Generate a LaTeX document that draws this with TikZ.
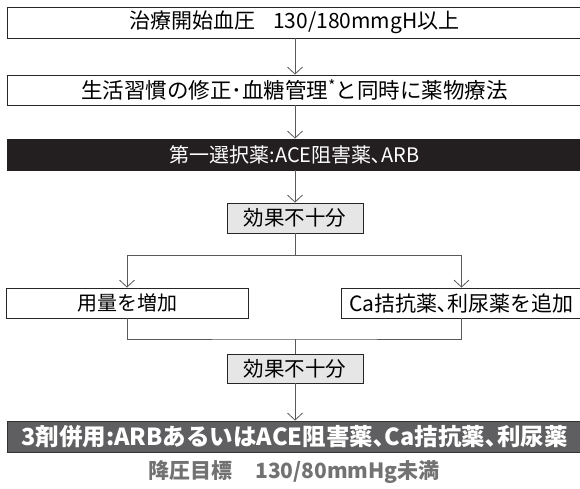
\documentclass[tikz,border=0pt]{standalone}
\usepackage{fontspec}
\setmainfont{Noto Sans CJK JP}
\usetikzlibrary{arrows.meta}
\definecolor{blackbox}{HTML}{231F20}
\definecolor{graybox}{HTML}{5F5F61}
\definecolor{lightbox}{HTML}{E6E6E6}
\definecolor{capgray}{HTML}{727272}
\definecolor{linegray}{HTML}{5A5A5A}
\begin{document}
\begin{tikzpicture}[x=1pt,y=-1pt,
  box/.style={draw=black!85, line width=0.8pt, inner sep=0pt, minimum height=30pt,
    font=\fontsize{21}{21}\selectfont},
  wide/.style={box, minimum width=575pt},
  darkbox/.style={wide, fill=blackbox, draw=blackbox, text=white,
    font=\fontsize{20}{20}\selectfont},
  midbox/.style={box, fill=graybox, draw=black!80, text=white, minimum width=575pt,
    font=\fontsize{23.5}{23.5}\selectfont\bfseries},
  checkbox/.style={box, fill=lightbox, minimum width=136pt, font=\fontsize{20.5}{20.5}\selectfont},
  conn/.style={draw=linegray, line width=0.8pt},
  arr/.style={conn, -{Straight Barb[length=7pt,width=15pt,line width=0.8pt]}},
]
\useasboundingbox (0,0) rectangle (580,489);
\fill[white] (0,0) rectangle (580,489);

\node[wide, minimum height=31pt] (n1) at (294.5,22.5) {治療開始血圧\hspace{0.85em}130/180mmgH以上};
\node[wide, font=\fontsize{21.5}{21.5}\selectfont] (n2) at (294.5,90) {生活習慣の修正･血糖管理\textsuperscript{*}と同時に薬物療法};
\node[darkbox, minimum height=31pt] (n3) at (294.5,154.5) {第一選択薬:ACE阻害薬､ARB};
\node[checkbox] (e1) at (295,218) {効果不十分};
\node[box, minimum width=242pt, font=\fontsize{20}{20}\selectfont] (l) at (127,303) {用量を増加};
\node[box, minimum width=241pt] (r) at (461.5,303) {Ca拮抗薬､利尿薬を追加};
\node[checkbox, minimum height=29pt] (e2) at (295,368.5) {効果不十分};
\node[midbox, minimum height=31pt] (n4) at (294.5,436.5) {3剤併用:ARBあるいはACE阻害薬､Ca拮抗薬､利尿薬};
\node[text=capgray, font=\fontsize{21}{21}\selectfont\bfseries] (cap) at (294,472) {降圧目標\hspace{1.1em}130/80mmHg未満};

\coordinate (j1) at (295,255);
\coordinate (j2) at (295,339);

\draw[arr] (n1.south -| e1) -- (n2.north -| e1);
\draw[arr] (n2.south -| e1) -- (n3.north -| e1);
\draw[arr] (n3.south -| e1) -- (e1.north);
\draw[conn] (e1.south) -- (j1);
\draw[arr] (j1) -| (l.north);
\draw[arr] (j1) -| (r.north);
\draw[conn] (l.south) |- (j2) -| (r.south);
\draw[conn] (j2) -- (e2.north);
\draw[arr] (e2.south) -- (n4.north -| e2);
\end{tikzpicture}
\end{document}
